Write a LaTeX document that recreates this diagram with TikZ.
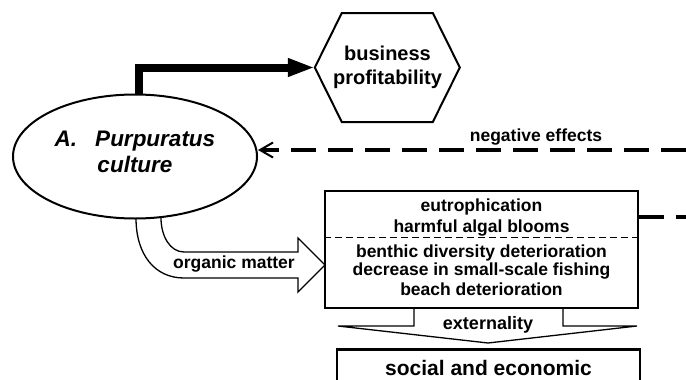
\documentclass[tikz,border=0pt]{standalone}
\usepackage{fontspec}
\setmainfont{Liberation Sans}
\usetikzlibrary{arrows.meta,positioning,calc,shapes.geometric}
\tikzset{
  txt/.style={font=\bfseries\fontsize{17.5}{20}\selectfont, align=center, inner sep=0pt},
  bigtxt/.style={font=\bfseries\fontsize{20}{24}\selectfont, align=center, inner sep=0pt},
  negline/.style={line width=3.5pt, dash pattern=on 25pt off 12pt},
  fatarr/.style={draw, line width=1.3pt, line join=miter}
}

\begin{document}
\begin{tikzpicture}[x=1pt, y=-1pt]
\useasboundingbox (0,0) rectangle (686,380);

% culture and profit
\node[draw, ellipse, line width=2pt, minimum width=244pt, minimum height=124pt, text depth=9pt,
      font=\bfseries\itshape\fontsize{22.5}{26}\selectfont, align=center]
      (culture) at (135,156.5) {A.\hspace{18pt}Purpuratus\\culture};
\node[bigtxt, minimum width=145pt, minimum height=109pt] (profit) at (387.5,67.5) {business\\profitability};
\draw[line width=2pt, line join=miter] (profit.west) -- ++(27,-54.5) -- ++(91,0) -- ++(27,54.5)
   -- ++(-27,54.5) -- ++(-91,0) -- cycle;

% thick arrow
\draw[line width=8pt, -{Triangle[length=27pt,width=17pt]}] ($(culture.north)+(4,0)$) |- (profit.west);

% negative effects
\coordinate (negR) at (686,150);
\draw[negline, -{Straight Barb[length=13pt,width=15pt,line width=2pt]}] (negR) -- (culture.east |- negR);
\node[txt] (neglbl) at (536,137) {negative effects};

% effects box
\node[draw, line width=1.2pt, minimum width=313pt, minimum height=117pt] (effects) at (481.5,249.5) {};
\node[txt] (eutro) at ($(effects.north)+(0,27.5)$) {eutrophication\\[1pt]harmful algal blooms};
\node[txt] (benthic) at ($(effects.north)+(0,80)$) {benthic diversity deterioration\\[-1.5pt]decrease in small-scale fishing\\beach deterioration};
\coordinate (divL) at ($(effects.north west)+(0,47)$);
\coordinate (divR) at ($(effects.north east)+(0,47)$);
\draw[line width=0.8pt, dash pattern=on 7pt off 4pt] (divL) -- (divR);
\coordinate (neg2R) at (686,217);
\draw[negline] (effects.east |- neg2R) -- (neg2R);

% organic matter
\draw[fatarr] (136,218) .. controls (136,255) and (155,278) .. (184,278) -- (298,278) -- (298,292)
   -- (325,265) -- (298,238) -- (298,252) -- (184,252) .. controls (170,252) and (161,236) .. (161,218);
\node[txt] (orglbl) at (234,264) {organic matter};

% externality
\draw[fatarr] (414,308) -- (414,326) -- (338,326) -- (488,343) -- (637,326) -- (563,326) -- (563,308);
\node[txt, font=\bfseries\fontsize{18}{20}\selectfont] (extlbl) at (488,325) {externality};

% social
\node[draw, line width=2.5pt, minimum width=303pt, minimum height=70pt, anchor=north] (socialbox) at (488.5,348) {};
\node[font=\bfseries\fontsize{21}{25}\selectfont, inner sep=0pt] (social) at ($(socialbox.north)+(0,19.5)$) {social and economic};
\end{tikzpicture}
\end{document}
